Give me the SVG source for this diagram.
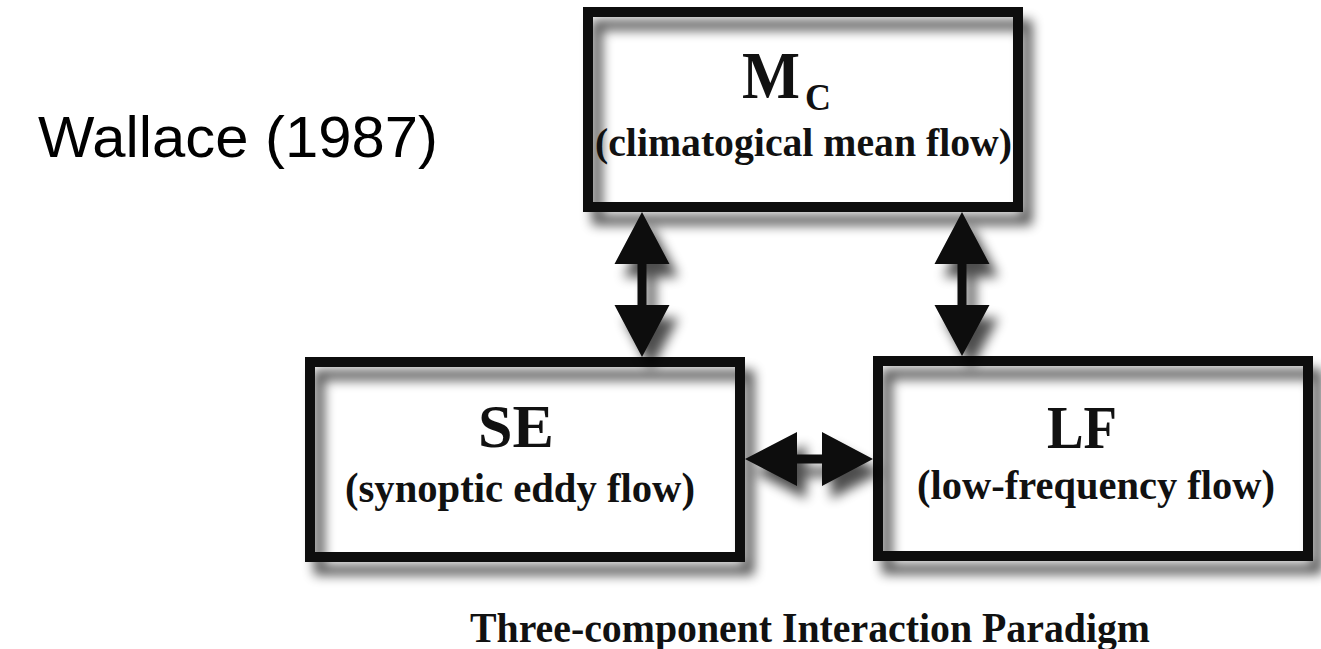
<svg xmlns="http://www.w3.org/2000/svg" width="1321" height="649" viewBox="0 0 1321 649">
  <defs>
    <!-- soft drop shadow cast by the thick outlines and arrows -->
    <filter id="drop" x="-10%" y="-10%" width="130%" height="140%" color-interpolation-filters="sRGB">
      <feGaussianBlur in="SourceAlpha" stdDeviation="6"/>
      <feOffset dx="9" dy="13" result="off"/>
      <feComponentTransfer>
        <feFuncA type="linear" slope="0.7"/>
      </feComponentTransfer>
      <feMerge>
        <feMergeNode/>
        <feMergeNode in="SourceGraphic"/>
      </feMerge>
    </filter>
    <style>
      .box { fill: none; stroke: #0d0d0d; stroke-width: 10; }
      .arrow { fill: #0d0d0d; }
      .serif { font-family: "Liberation Serif", "Times New Roman", serif; font-weight: bold; fill: #111; }
      .title { font-size: 62px; }
      .sub { font-size: 43px; }
      .sans { font-family: "Liberation Sans", Arial, sans-serif; fill: #000; }
    </style>
  </defs>

  <rect x="0" y="0" width="1321" height="649" fill="#ffffff"/>

  <text class="sans" x="38" y="157" font-size="57" textLength="400" lengthAdjust="spacingAndGlyphs">Wallace (1987)</text>

  <g id="node-mc">
    <rect class="box" x="588" y="12" width="430" height="195" filter="url(#drop)"/>
    <text class="serif" x="742" y="98" font-size="68" textLength="58" lengthAdjust="spacingAndGlyphs">M</text>
    <text class="serif" x="805" y="110" font-size="38" textLength="26" lengthAdjust="spacingAndGlyphs">C</text>
    <text class="serif" x="595" y="156" font-size="41" textLength="417" lengthAdjust="spacingAndGlyphs">(climatogical mean flow)</text>
  </g>

  <g id="node-se">
    <rect class="box" x="310" y="362" width="430" height="195" filter="url(#drop)"/>
    <text class="serif title" x="516" y="447" text-anchor="middle">SE</text>
    <text class="serif sub" x="345" y="502" textLength="350" lengthAdjust="spacingAndGlyphs">(synoptic eddy flow)</text>
  </g>

  <g id="node-lf">
    <rect class="box" x="878" y="361" width="430" height="195" filter="url(#drop)"/>
    <text class="serif title" x="1047" y="448" textLength="70" lengthAdjust="spacingAndGlyphs">LF</text>
    <text class="serif sub" x="917" y="499" textLength="358" lengthAdjust="spacingAndGlyphs">(low-frequency flow)</text>
  </g>

  <g id="connectors" filter="url(#drop)">
    <!-- MC <-> SE -->
    <polygon class="arrow" points="642,212 669.5,264 646.5,264 646.5,305 669.5,305 642,357 614.5,305 637.5,305 637.5,264 614.5,264"/>
    <!-- MC <-> LF -->
    <polygon class="arrow" points="962,212 989.5,264 966.5,264 966.5,305 989.5,305 962,356 934.5,305 957.5,305 957.5,264 934.5,264"/>
    <!-- SE <-> LF -->
    <polygon class="arrow" points="745,459 797,432 797,454.5 822,454.5 822,432 873,459 822,486 822,463.5 797,463.5 797,486"/>
  </g>

  <text class="serif" x="470" y="642" font-size="43" textLength="680" lengthAdjust="spacingAndGlyphs">Three-component Interaction Paradigm</text>
</svg>
